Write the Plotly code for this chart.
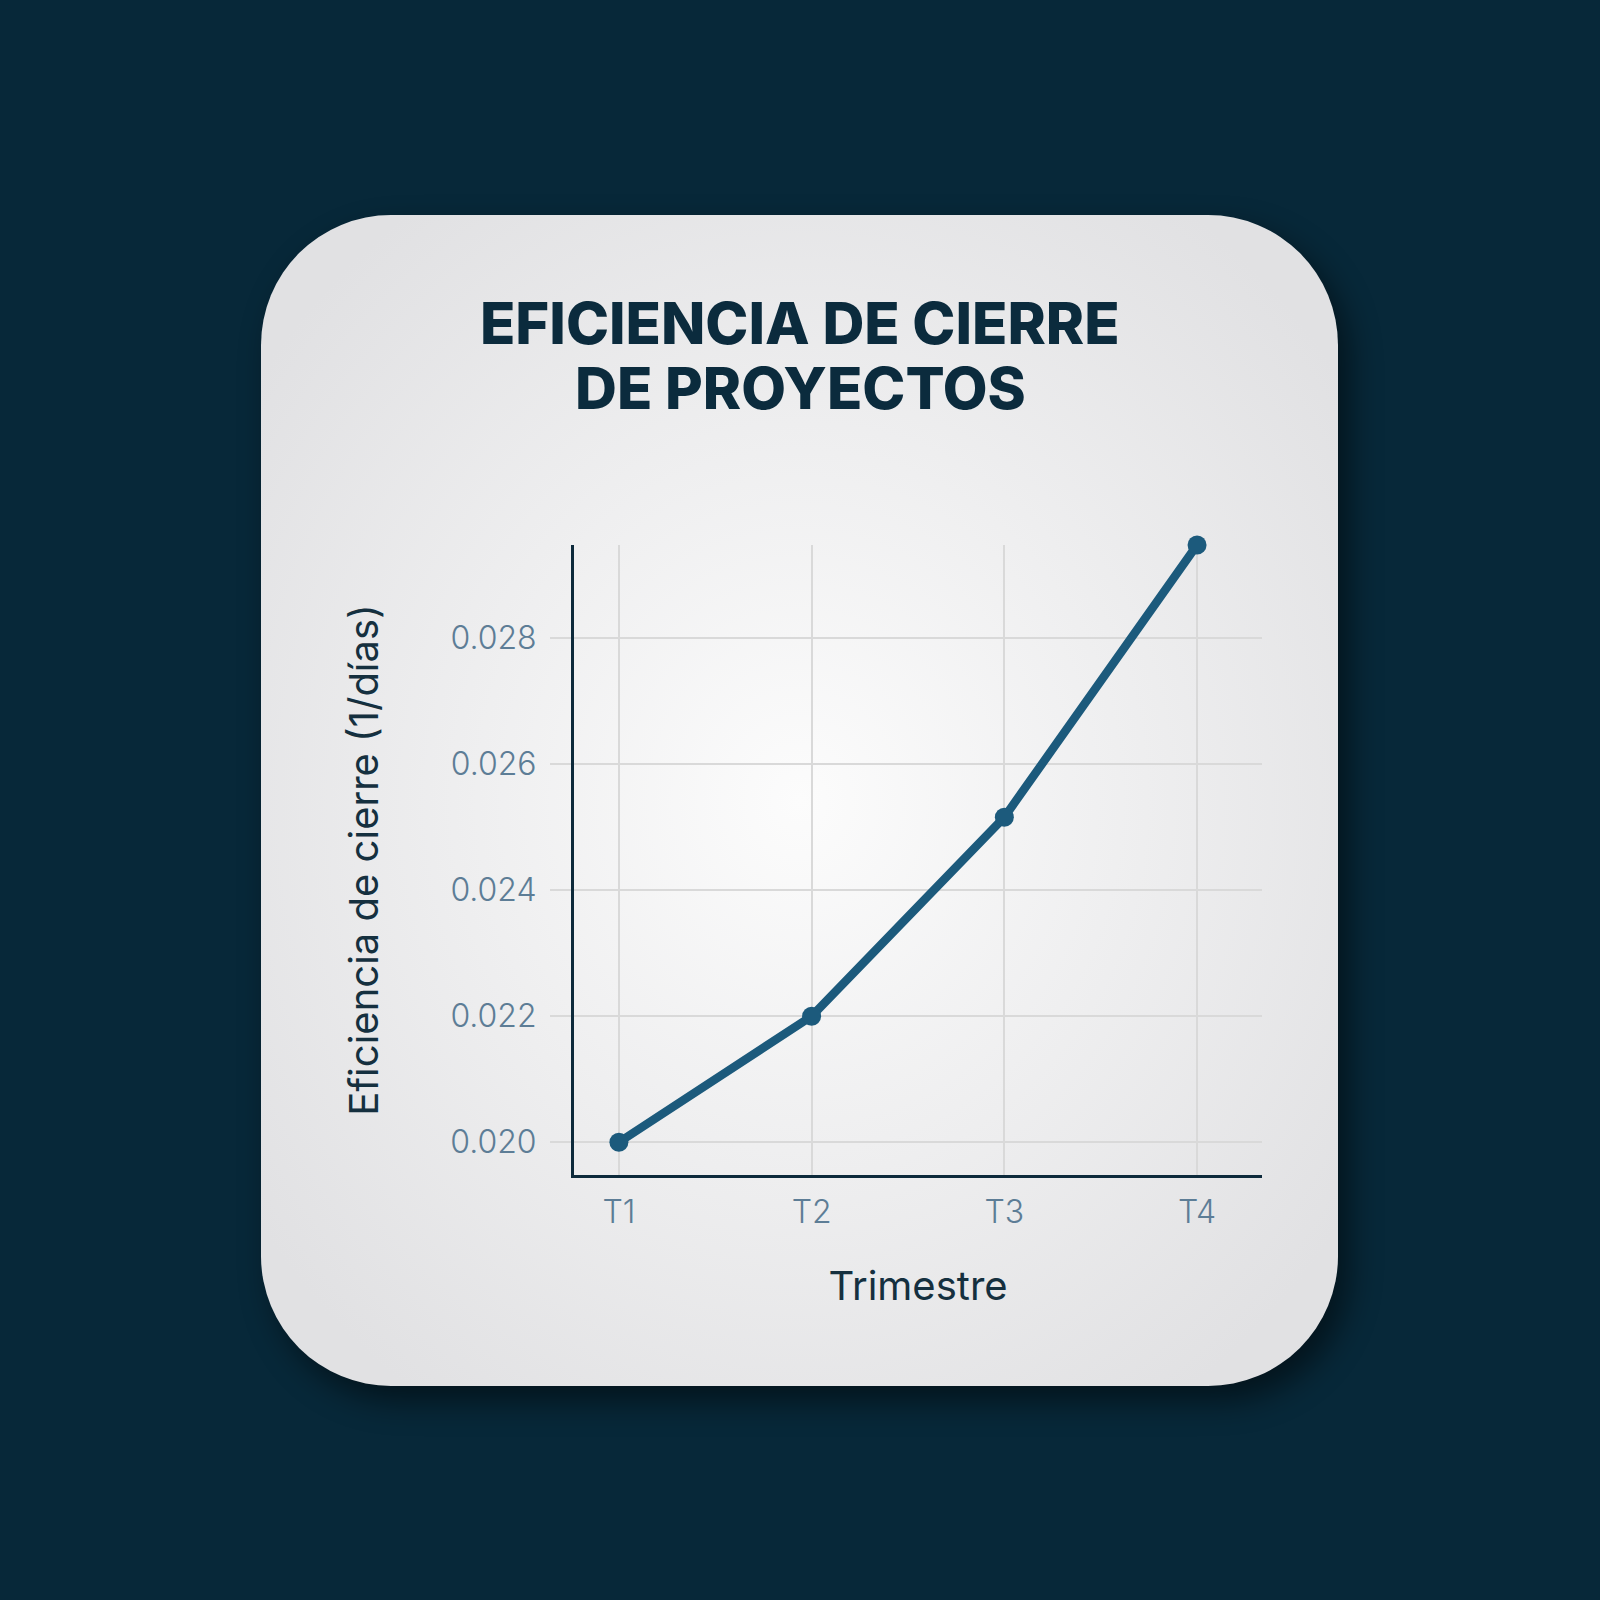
import base64
import plotly.graph_objects as go

# Data
quarters = ['T1', 'T2', 'T3', 'T4']
closure_efficiency = [0.0200, 0.0220, 0.02516, 0.02948]
y_ticks = [0.020, 0.022, 0.024, 0.026, 0.028]
y_tick_labels = ['0.020', '0.022', '0.024', '0.026', '0.028']
title_lines = ['EFICIENCIA DE CIERRE', 'DE PROYECTOS']

NAVY = '#072839'
LINE_BLUE = '#1c5a7c'
TICK_GREY = '#5d7d96'
TITLE_NAVY = '#0b2b3d'

# plot area in pixels (used to place the card image and title in paper units)
W, H = 1600, 1600
L, R, T, B = 574, 338, 545, 425
PW, PH = W - L - R, H - T - B


def px_to_paper_y(py):
    return (H - B - py) / PH


# Card behind the chart: rounded rectangle, soft radial gradient and shadow
def card_image():
    """
    Build the background card as an svg data uri.
    """
    svg = (
        "<svg xmlns='http://www.w3.org/2000/svg' width='1600' height='1600' viewBox='0 0 1600 1600'>"
        "<defs>"
        "<radialGradient id='g' cx='0.5' cy='0.5' r='0.62'>"
        "<stop offset='0' stop-color='#fcfcfc'/><stop offset='1' stop-color='#e1e1e3'/>"
        "</radialGradient>"
        "<filter id='s' x='-20%' y='-20%' width='140%' height='140%'>"
        "<feGaussianBlur stdDeviation='16'/></filter>"
        "</defs>"
        "<rect x='272' y='230' width='1077' height='1171' rx='130' fill='#000' opacity='0.5' filter='url(#s)'/>"
        "<rect x='261' y='215' width='1077' height='1171' rx='130' fill='url(#g)'/>"
        "</svg>"
    )
    return 'data:image/svg+xml;base64,' + base64.b64encode(svg.encode()).decode()


def plot_closure_efficiency():
    """
    Line chart of project closure efficiency per quarter.
    """
    fig = go.Figure(go.Scatter(
        x=quarters, y=closure_efficiency, mode='lines+markers',
        line=dict(color=LINE_BLUE, width=8.5),
        marker=dict(color=LINE_BLUE, size=19),
        cliponaxis=False, showlegend=False))

    # two title lines, set as separate annotations for tighter line spacing
    title_annotations = [
        dict(text=line, xref='paper', yref='paper',
             x=(W / 2 - L) / PW, y=px_to_paper_y(py),
             xanchor='center', yanchor='middle', showarrow=False,
             font=dict(size=58, color=TITLE_NAVY, weight=800))
        for line, py in zip(title_lines, [323, 388])
    ]

    fig.update_layout(
        width=W, height=H,
        paper_bgcolor=NAVY, plot_bgcolor='rgba(0,0,0,0)',
        margin=dict(l=L, r=R, t=T, b=B),
        font=dict(family='Inter, Lato, sans-serif'),
        annotations=title_annotations,
        images=[dict(source=card_image(), xref='paper', yref='paper',
                     x=-L / PW, y=(PH + T) / PH, sizex=W / PW, sizey=H / PH,
                     xanchor='left', yanchor='top',
                     sizing='stretch', layer='below')])

    fig.update_xaxes(
        type='category', range=[-0.233, 3.337],
        showgrid=True, gridcolor='#d9d9d9', gridwidth=1.5,
        showline=True, linecolor='#0d2a3b', linewidth=3,
        ticks='', ticklabelstandoff=7,
        tickfont=dict(size=32, color=TICK_GREY, weight=300),
        title=dict(text='Trimestre', standoff=42,
                   font=dict(size=40, color='#15303f')))

    fig.update_yaxes(
        range=[0.01948, 0.02948],
        tickvals=y_ticks, ticktext=y_tick_labels,
        showgrid=True, gridcolor='#d9d9d9', gridwidth=1.5,
        showline=True, linecolor='#0d2a3b', linewidth=3,
        ticks='outside', ticklen=21, tickcolor='#d9d9d9', tickwidth=1.5,
        ticklabelstandoff=7, zeroline=False,
        tickfont=dict(size=32, color=TICK_GREY, weight=300),
        title=dict(text='Eficiencia de cierre (1/días)', standoff=60,
                   font=dict(size=40, color='#15303f')))
    return fig


if __name__ == "__main__":
    fig = plot_closure_efficiency()
    # drop the browser's default page margin so the figure is full-bleed
    fig.write_html("out.html", config={'displayModeBar': False},
                   post_script="document.body.style.margin='0';")
